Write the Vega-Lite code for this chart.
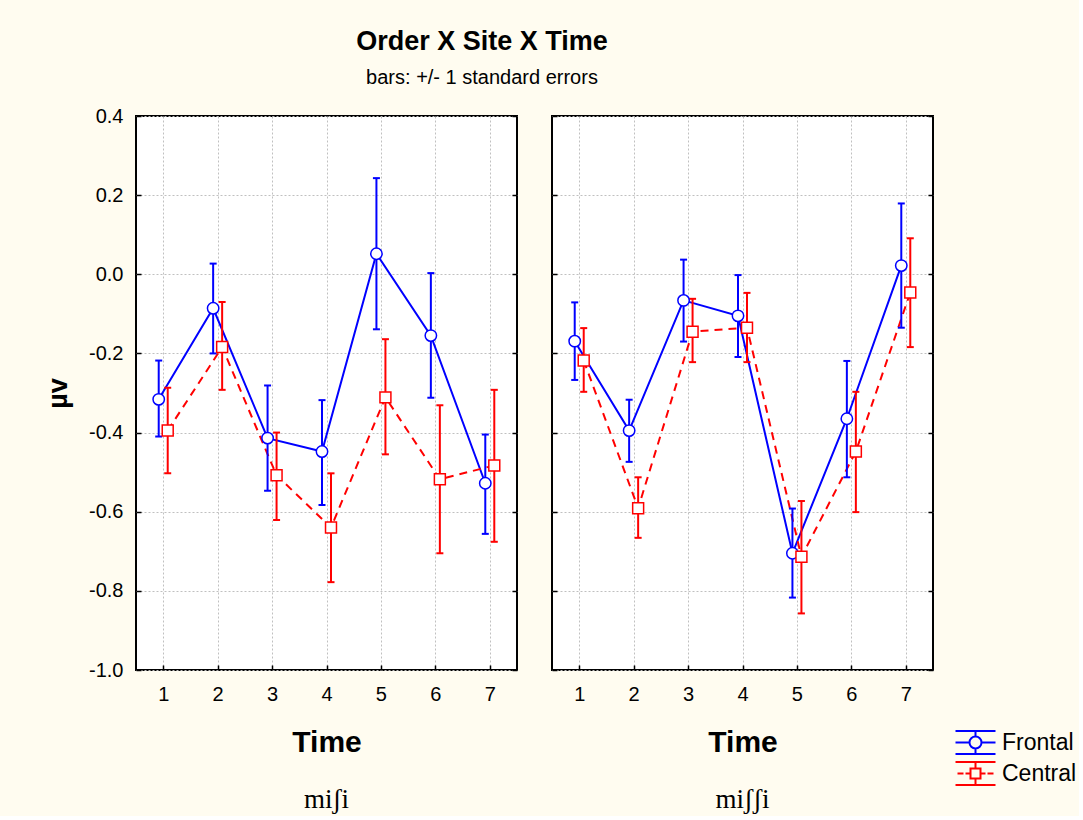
{
 "$schema": "https://vega.github.io/schema/vega-lite/v6.json",
 "background": "#FFFCF0",
 "padding": {"left": 43, "top": 28, "right": 2, "bottom": 2},
 "title": {"text": "Order X Site X Time", "subtitle": "bars: +/- 1 standard errors", "font": "Liberation Sans", "fontSize": 27, "fontWeight": "bold", "color": "black", "subtitleFont": "Liberation Sans", "subtitleFontSize": 20, "subtitleColor": "black", "subtitlePadding": 12, "anchor": "middle", "frame": "group", "dx": 346, "offset": 16},
 "data": {"values": [
  {"Order": "miʃi", "Site": "Frontal", "Time": 1, "mean": -0.316, "lo": -0.410, "hi": -0.218},
  {"Order": "miʃi", "Site": "Frontal", "Time": 2, "mean": -0.086, "lo": -0.200, "hi": 0.027},
  {"Order": "miʃi", "Site": "Frontal", "Time": 3, "mean": -0.414, "lo": -0.547, "hi": -0.281},
  {"Order": "miʃi", "Site": "Frontal", "Time": 4, "mean": -0.448, "lo": -0.583, "hi": -0.318},
  {"Order": "miʃi", "Site": "Frontal", "Time": 5, "mean": 0.052, "lo": -0.139, "hi": 0.243},
  {"Order": "miʃi", "Site": "Frontal", "Time": 6, "mean": -0.155, "lo": -0.312, "hi": 0.003},
  {"Order": "miʃi", "Site": "Frontal", "Time": 7, "mean": -0.528, "lo": -0.656, "hi": -0.405},
  {"Order": "miʃi", "Site": "Central", "Time": 1, "mean": -0.395, "lo": -0.503, "hi": -0.287},
  {"Order": "miʃi", "Site": "Central", "Time": 2, "mean": -0.184, "lo": -0.292, "hi": -0.070},
  {"Order": "miʃi", "Site": "Central", "Time": 3, "mean": -0.508, "lo": -0.621, "hi": -0.400},
  {"Order": "miʃi", "Site": "Central", "Time": 4, "mean": -0.640, "lo": -0.778, "hi": -0.503},
  {"Order": "miʃi", "Site": "Central", "Time": 5, "mean": -0.311, "lo": -0.455, "hi": -0.164},
  {"Order": "miʃi", "Site": "Central", "Time": 6, "mean": -0.518, "lo": -0.705, "hi": -0.331},
  {"Order": "miʃi", "Site": "Central", "Time": 7, "mean": -0.483, "lo": -0.676, "hi": -0.292},
  {"Order": "miʃʃi", "Site": "Frontal", "Time": 1, "mean": -0.169, "lo": -0.267, "hi": -0.071},
  {"Order": "miʃʃi", "Site": "Frontal", "Time": 2, "mean": -0.395, "lo": -0.474, "hi": -0.317},
  {"Order": "miʃʃi", "Site": "Frontal", "Time": 3, "mean": -0.066, "lo": -0.170, "hi": 0.037},
  {"Order": "miʃʃi", "Site": "Frontal", "Time": 4, "mean": -0.105, "lo": -0.209, "hi": -0.002},
  {"Order": "miʃʃi", "Site": "Frontal", "Time": 5, "mean": -0.705, "lo": -0.817, "hi": -0.592},
  {"Order": "miʃʃi", "Site": "Frontal", "Time": 6, "mean": -0.365, "lo": -0.513, "hi": -0.219},
  {"Order": "miʃʃi", "Site": "Frontal", "Time": 7, "mean": 0.022, "lo": -0.135, "hi": 0.179},
  {"Order": "miʃʃi", "Site": "Central", "Time": 1, "mean": -0.218, "lo": -0.297, "hi": -0.136},
  {"Order": "miʃʃi", "Site": "Central", "Time": 2, "mean": -0.591, "lo": -0.666, "hi": -0.513},
  {"Order": "miʃʃi", "Site": "Central", "Time": 3, "mean": -0.145, "lo": -0.222, "hi": -0.062},
  {"Order": "miʃʃi", "Site": "Central", "Time": 4, "mean": -0.135, "lo": -0.222, "hi": -0.047},
  {"Order": "miʃʃi", "Site": "Central", "Time": 5, "mean": -0.714, "lo": -0.857, "hi": -0.573},
  {"Order": "miʃʃi", "Site": "Central", "Time": 6, "mean": -0.448, "lo": -0.601, "hi": -0.297},
  {"Order": "miʃʃi", "Site": "Central", "Time": 7, "mean": -0.046, "lo": -0.184, "hi": 0.091}
 ]},
 "spacing": 31,
 "hconcat": [
  {
   "width": 381, "height": 554,
   "transform": [{"filter": "datum.Order === 'miʃi'"}],
   "title": {"text": "miʃi", "orient": "bottom", "font": "Liberation Serif", "fontSize": 27, "fontWeight": "normal", "color": "black", "offset": 30, "anchor": "middle"},
   "resolve": {"axis": {"y": "independent"}},
   "layer": [
    {"transform": [{"filter": "datum.Site === 'Frontal'"}],
     "mark": {"type": "line", "color": "#0000FF", "strokeWidth": 2, "xOffset": -4.5},
     "encoding": {
      "x": {"field": "Time", "type": "quantitative", "scale": {"domain": [0.5, 7.5], "nice": false, "zero": false},
            "axis": {"values": [1, 2, 3, 4, 5, 6, 7], "format": "d", "title": "Time", "titleFontSize": 30, "titlePadding": 23, "labelPadding": 19, "grid": true}},
      "y": {"field": "mean", "type": "quantitative", "scale": {"domain": [-1, 0.4], "nice": false, "zero": false},
            "axis": {"values": [-1, -0.8, -0.6, -0.4, -0.2, 0, 0.2, 0.4], "format": ".1f", "title": "µv", "titleFontSize": 27, "titlePadding": 16, "labelPadding": 18, "grid": true}}
     }},
    {"transform": [{"filter": "datum.Site === 'Central'"}],
     "mark": {"type": "line", "color": "#FF0000", "strokeWidth": 2, "strokeDash": [8, 6], "xOffset": 4.5},
     "encoding": {
      "x": {"field": "Time", "type": "quantitative"},
      "y": {"field": "mean", "type": "quantitative", "axis": {"orient": "right", "values": [-1, -0.8, -0.6, -0.4, -0.2, 0, 0.2, 0.4], "labels": false, "title": null, "grid": false}}
     }},
    {"transform": [{"filter": "datum.Site === 'Frontal'"}],
     "mark": {"type": "rule", "color": "#0000FF", "strokeWidth": 2, "xOffset": -4.5},
     "encoding": {"x": {"field": "Time", "type": "quantitative"}, "y": {"field": "lo", "type": "quantitative", "axis": null}, "y2": {"field": "hi"}}},
    {"transform": [{"filter": "datum.Site === 'Central'"}],
     "mark": {"type": "rule", "color": "#FF0000", "strokeWidth": 2, "xOffset": 4.5},
     "encoding": {"x": {"field": "Time", "type": "quantitative"}, "y": {"field": "lo", "type": "quantitative", "axis": null}, "y2": {"field": "hi"}}},
    {"transform": [{"filter": "datum.Site === 'Frontal'"}],
     "mark": {"type": "tick", "orient": "horizontal", "color": "#0000FF", "size": 7, "thickness": 2, "opacity": 1, "xOffset": -4.5},
     "encoding": {"x": {"field": "Time", "type": "quantitative"}, "y": {"field": "lo", "type": "quantitative", "axis": null}}},
    {"transform": [{"filter": "datum.Site === 'Frontal'"}],
     "mark": {"type": "tick", "orient": "horizontal", "color": "#0000FF", "size": 7, "thickness": 2, "opacity": 1, "xOffset": -4.5},
     "encoding": {"x": {"field": "Time", "type": "quantitative"}, "y": {"field": "hi", "type": "quantitative", "axis": null}}},
    {"transform": [{"filter": "datum.Site === 'Central'"}],
     "mark": {"type": "tick", "orient": "horizontal", "color": "#FF0000", "size": 7, "thickness": 2, "opacity": 1, "xOffset": 4.5},
     "encoding": {"x": {"field": "Time", "type": "quantitative"}, "y": {"field": "lo", "type": "quantitative", "axis": null}}},
    {"transform": [{"filter": "datum.Site === 'Central'"}],
     "mark": {"type": "tick", "orient": "horizontal", "color": "#FF0000", "size": 7, "thickness": 2, "opacity": 1, "xOffset": 4.5},
     "encoding": {"x": {"field": "Time", "type": "quantitative"}, "y": {"field": "hi", "type": "quantitative", "axis": null}}},
    {"transform": [{"filter": "datum.Site === 'Frontal'"}],
     "mark": {"type": "point", "shape": "circle", "filled": false, "fill": "white", "color": "#0000FF", "size": 130, "strokeWidth": 1.5, "opacity": 1, "xOffset": -4.5},
     "encoding": {"x": {"field": "Time", "type": "quantitative"}, "y": {"field": "mean", "type": "quantitative", "axis": null}}},
    {"transform": [{"filter": "datum.Site === 'Central'"}],
     "mark": {"type": "point", "shape": "square", "filled": false, "fill": "white", "color": "#FF0000", "size": 120, "strokeWidth": 1.5, "opacity": 1, "xOffset": 4.5},
     "encoding": {"x": {"field": "Time", "type": "quantitative"}, "y": {"field": "mean", "type": "quantitative", "axis": null}}},
    {"transform": [{"filter": "datum.Time === 1"}],
     "mark": {"type": "point", "filled": false, "opacity": 0},
     "encoding": {"x": {"field": "Time", "type": "quantitative"}, "y": {"field": "mean", "type": "quantitative", "axis": null},
      "color": {"field": "Site", "type": "nominal", "scale": {"domain": ["Frontal", "Central"], "range": ["#0000FF", "#FF0000"]},
       "legend": {"title": null, "orient": "none", "legendX": 828, "legendY": 615, "symbolSize": 100, "symbolOpacity": 1, "symbolFillColor": "white", "symbolStrokeWidth": 2, "labelFont": "Liberation Sans", "labelFontSize": 23, "labelColor": "black", "labelOffset": 15, "rowPadding": 0}},
      "shape": {"field": "Site", "type": "nominal", "scale": {"domain": ["Frontal", "Central"], "range": ["M-4,-2.3H4M-4,2.3H4M-4,0H-1.2M1.2,0H4M0,-2.3V-1.2M0,1.2V2.3M1.2,0A1.2,1.2 0 1 1 -1.2,0A1.2,1.2 0 1 1 1.2,0Z", "M-4,-2.3H4M-4,2.3H4M-3.6,0H-2.4M-2,0H-1M1,0H2M2.4,0H3.6M0,-2.3V-1M0,1V2.3M-1,-1H1V1H-1Z"]},
       "legend": {"title": null, "orient": "none", "legendX": 828, "legendY": 615, "symbolSize": 100, "symbolOpacity": 1, "symbolFillColor": "white", "symbolStrokeWidth": 2, "labelFont": "Liberation Sans", "labelFontSize": 23, "labelColor": "black", "labelOffset": 15, "rowPadding": 0}}
     }}
   ]
  },
  {
   "width": 381, "height": 554,
   "transform": [{"filter": "datum.Order === 'miʃʃi'"}],
   "title": {"text": "miʃʃi", "orient": "bottom", "font": "Liberation Serif", "fontSize": 27, "fontWeight": "normal", "color": "black", "offset": 30, "anchor": "middle"},
   "resolve": {"axis": {"y": "independent"}},
   "layer": [
    {"transform": [{"filter": "datum.Site === 'Frontal'"}],
     "mark": {"type": "line", "color": "#0000FF", "strokeWidth": 2, "xOffset": -4.5},
     "encoding": {
      "x": {"field": "Time", "type": "quantitative", "scale": {"domain": [0.5, 7.5], "nice": false, "zero": false},
            "axis": {"values": [1, 2, 3, 4, 5, 6, 7], "format": "d", "title": "Time", "titleFontSize": 30, "titlePadding": 23, "labelPadding": 19, "grid": true}},
      "y": {"field": "mean", "type": "quantitative", "scale": {"domain": [-1, 0.4], "nice": false, "zero": false},
            "axis": {"values": [-1, -0.8, -0.6, -0.4, -0.2, 0, 0.2, 0.4], "labels": false, "title": null, "grid": true}}
     }},
    {"transform": [{"filter": "datum.Site === 'Central'"}],
     "mark": {"type": "line", "color": "#FF0000", "strokeWidth": 2, "strokeDash": [8, 6], "xOffset": 4.5},
     "encoding": {
      "x": {"field": "Time", "type": "quantitative"},
      "y": {"field": "mean", "type": "quantitative", "axis": {"orient": "right", "values": [-1, -0.8, -0.6, -0.4, -0.2, 0, 0.2, 0.4], "labels": false, "title": null, "grid": false}}
     }},
    {"transform": [{"filter": "datum.Site === 'Frontal'"}],
     "mark": {"type": "rule", "color": "#0000FF", "strokeWidth": 2, "xOffset": -4.5},
     "encoding": {"x": {"field": "Time", "type": "quantitative"}, "y": {"field": "lo", "type": "quantitative", "axis": null}, "y2": {"field": "hi"}}},
    {"transform": [{"filter": "datum.Site === 'Central'"}],
     "mark": {"type": "rule", "color": "#FF0000", "strokeWidth": 2, "xOffset": 4.5},
     "encoding": {"x": {"field": "Time", "type": "quantitative"}, "y": {"field": "lo", "type": "quantitative", "axis": null}, "y2": {"field": "hi"}}},
    {"transform": [{"filter": "datum.Site === 'Frontal'"}],
     "mark": {"type": "tick", "orient": "horizontal", "color": "#0000FF", "size": 7, "thickness": 2, "opacity": 1, "xOffset": -4.5},
     "encoding": {"x": {"field": "Time", "type": "quantitative"}, "y": {"field": "lo", "type": "quantitative", "axis": null}}},
    {"transform": [{"filter": "datum.Site === 'Frontal'"}],
     "mark": {"type": "tick", "orient": "horizontal", "color": "#0000FF", "size": 7, "thickness": 2, "opacity": 1, "xOffset": -4.5},
     "encoding": {"x": {"field": "Time", "type": "quantitative"}, "y": {"field": "hi", "type": "quantitative", "axis": null}}},
    {"transform": [{"filter": "datum.Site === 'Central'"}],
     "mark": {"type": "tick", "orient": "horizontal", "color": "#FF0000", "size": 7, "thickness": 2, "opacity": 1, "xOffset": 4.5},
     "encoding": {"x": {"field": "Time", "type": "quantitative"}, "y": {"field": "lo", "type": "quantitative", "axis": null}}},
    {"transform": [{"filter": "datum.Site === 'Central'"}],
     "mark": {"type": "tick", "orient": "horizontal", "color": "#FF0000", "size": 7, "thickness": 2, "opacity": 1, "xOffset": 4.5},
     "encoding": {"x": {"field": "Time", "type": "quantitative"}, "y": {"field": "hi", "type": "quantitative", "axis": null}}},
    {"transform": [{"filter": "datum.Site === 'Frontal'"}],
     "mark": {"type": "point", "shape": "circle", "filled": false, "fill": "white", "color": "#0000FF", "size": 130, "strokeWidth": 1.5, "opacity": 1, "xOffset": -4.5},
     "encoding": {"x": {"field": "Time", "type": "quantitative"}, "y": {"field": "mean", "type": "quantitative", "axis": null}}},
    {"transform": [{"filter": "datum.Site === 'Central'"}],
     "mark": {"type": "point", "shape": "square", "filled": false, "fill": "white", "color": "#FF0000", "size": 120, "strokeWidth": 1.5, "opacity": 1, "xOffset": 4.5},
     "encoding": {"x": {"field": "Time", "type": "quantitative"}, "y": {"field": "mean", "type": "quantitative", "axis": null}}}
   ]
  }
 ],
 "config": {
  "view": {"stroke": "black", "strokeWidth": 2, "fill": "white"},
  "font": "Liberation Sans",
  "locale": {"number": {"decimal": ".", "thousands": ",", "grouping": [3], "currency": ["$", ""], "minus": "-"}},
  "axis": {"labelFont": "Liberation Sans", "labelFontSize": 20, "labelColor": "black", "titleFont": "Liberation Sans", "titleFontWeight": "bold", "titleColor": "black", "tickColor": "black", "tickSize": -5, "tickWidth": 1.5, "domain": false, "gridColor": "#c0c0c0", "gridDash": [2, 2], "gridWidth": 1}
 }
}
